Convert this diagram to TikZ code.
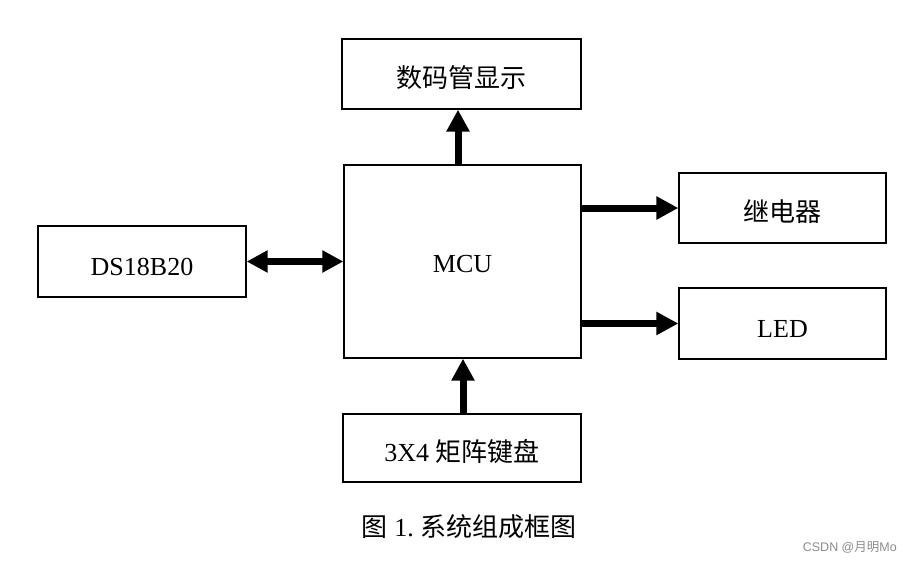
\documentclass[tikz,border=0pt]{standalone}
\usepackage{fontspec}
\setmainfont{Liberation Serif}
\newfontfamily\cjk{Noto Sans CJK SC}
\newfontfamily\wmsans{Liberation Sans}
\usetikzlibrary{arrows.meta}
\begin{document}
\begin{tikzpicture}[x=1pt,y=-1pt,
  blk/.style={draw=black,line width=1.3pt,fill=white,inner sep=0pt,
    text height=27pt,text depth=0pt,font=\fontsize{26}{30}\selectfont},
  arr/.style={line width=7pt,-{Triangle[length=22pt,width=22pt]}},
  darr/.style={line width=7pt,{Triangle[length=21pt,width=21pt]}-{Triangle[length=21pt,width=21pt]}}]
\useasboundingbox[fill=white] (0,0) rectangle (917,562);
\node[blk,minimum width=239pt,minimum height=70pt] (disp) at (461.5,74) {\cjk 数码管显示};
\node[blk,minimum width=237pt,minimum height=193pt,text height=21pt] (mcu) at (462.5,261.5) {MCU};
\node[blk,minimum width=208pt,minimum height=71pt] (ds) at (142,261.5) {DS18B20};
\node[blk,minimum width=207pt,minimum height=70pt] (relay) at (782.5,208) {\cjk 继电器};
\node[blk,minimum width=207pt,minimum height=71pt] (led) at (782.5,323.5) {LED};
\node[blk,minimum width=238pt,minimum height=68pt] (key) at (462,448) {3X4 {\cjk 矩阵键盘}};
\coordinate (ax) at (458,0);
\coordinate (bx) at (463,0);
\draw[arr] (mcu.north -| ax) -- (disp.south -| ax);
\draw[arr] (mcu.east |- relay) -- (relay.west);
\draw[arr] (mcu.east |- led) -- (led.west);
\draw[darr] (ds.east) -- (mcu.west);
\draw[arr] (key.north -| bx) -- (mcu.south -| bx);
\node[inner sep=0pt,text height=27pt,text depth=0pt,font=\fontsize{26}{30}\selectfont] (cap) at (469,523) {{\cjk 图} 1.\ {\cjk 系统组成框图}};
\node[anchor=base east,inner sep=0pt,text=black!45,font=\fontsize{12.5}{15}\wmsans] (wm) at (897,551) {CSDN @{\cjk 月明}Mo};
\end{tikzpicture}
\end{document}
